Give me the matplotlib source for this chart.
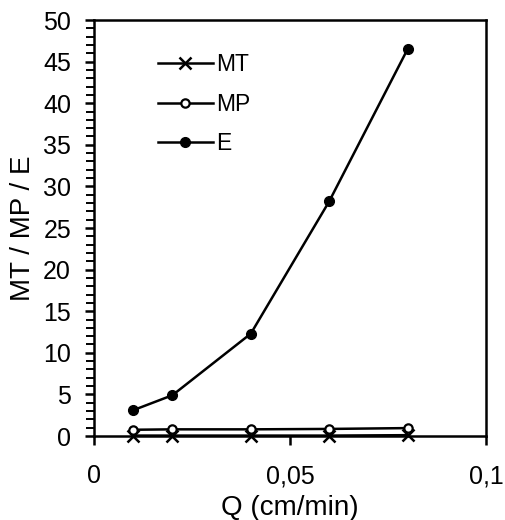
import matplotlib
matplotlib.use("Agg")
import matplotlib.pyplot as plt
from matplotlib.ticker import MultipleLocator

plt.rcParams['font.family'] = ['Liberation Sans', 'DejaVu Sans']

# Flow rate (cm/min) and the three measured ratios
q = [0.01, 0.02, 0.04, 0.06, 0.08]
mt = [0.05, 0.05, 0.05, 0.05, 0.1]
mp = [0.75, 0.8, 0.8, 0.85, 0.95]
e = [3.1, 4.9, 12.3, 28.2, 46.5]

x_ticks = [0, 0.05, 0.1]
x_tick_labels = ["0", "0,05", "0,1"]

fig = plt.figure(figsize=(5.06, 5.20), dpi=100)
ax = fig.add_axes([94 / 506, 84 / 520, 392 / 506, 416 / 520])

ax.plot(q, mt, color='black', lw=1.8, marker='x', ms=8, mew=1.8,
        label='MT', clip_on=False)
ax.plot(q, mp, color='black', lw=1.8, marker='o', ms=6, mfc='white',
        mew=1.6, label='MP', clip_on=False)
ax.plot(q, e, color='black', lw=1.8, marker='o', ms=7, mfc='black',
        label='E', clip_on=False)

ax.set_xlim(0, 0.1)
ax.set_ylim(0, 50)
ax.set_xticks(x_ticks)
ax.set_xticklabels(x_tick_labels)
ax.yaxis.set_major_locator(MultipleLocator(5))
ax.yaxis.set_minor_locator(MultipleLocator(1))

for s in ax.spines.values():
    s.set_linewidth(1.8)

ax.tick_params(axis='x', which='major', direction='out', length=6.5, width=1.8,
               pad=14, labelsize=18)
ax.tick_params(axis='y', which='major', direction='out', length=6.5, width=1.8,
               pad=10, labelsize=18)
ax.tick_params(axis='y', which='minor', direction='out', length=6, width=1.4)

ax.set_xlabel('Q (cm/min)', fontsize=20, labelpad=5)
ax.set_ylabel('MT / MP / E', fontsize=20, labelpad=5)

leg = ax.legend(loc='upper left', bbox_to_anchor=(0.11, 0.97), frameon=False,
                fontsize=16.5, handlelength=2.4, handletextpad=0.15,
                labelspacing=0.72)

fig.savefig('out.png', dpi=100)
